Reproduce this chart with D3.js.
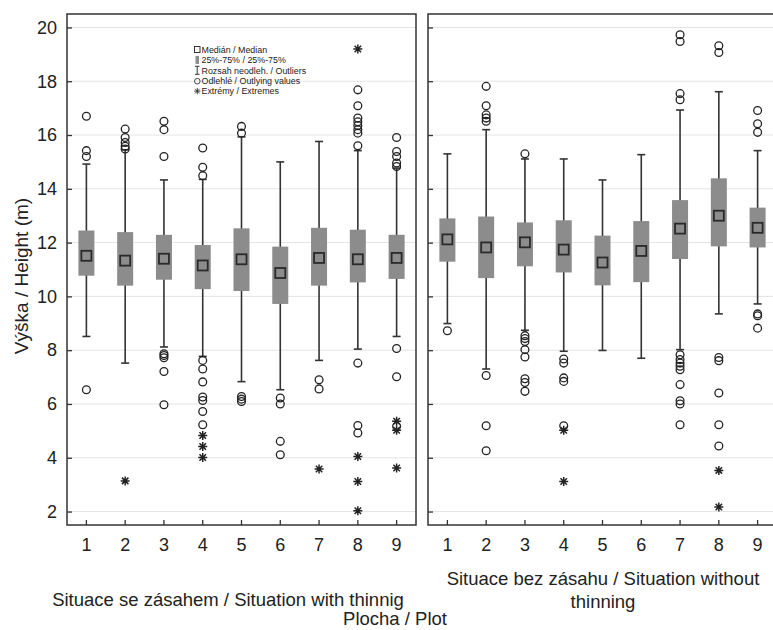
<!DOCTYPE html>
<html>
<head>
<meta charset="utf-8">
<script src="https://cdn.jsdelivr.net/npm/d3@7"></script>
<style>
    body { margin: 0; background: #fff; }
    svg { display: block; font-family: "Liberation Sans", Arial, sans-serif; }
    .axis text { font-size: 18px; fill: #222; }
    .axis line { stroke: #333; stroke-width: 1.3; }
    .axis path { display: none; }
</style>
</head>
<body>
<div id="chart"></div>
<script>

// Plots (x categories) and y ticks
let plots = ["1", "2", "3", "4", "5", "6", "7", "8", "9"];
let yTicks = [2, 4, 6, 8, 10, 12, 14, 16, 18, 20];

// Situation with thinning (left panel)
let thinMedian = [11.51, 11.33, 11.40, 11.15, 11.38, 10.87, 11.43, 11.38, 11.43];
let thinQ1 = [10.77, 10.40, 10.62, 10.27, 10.20, 9.72, 10.40, 10.52, 10.65];
let thinQ3 = [12.45, 12.39, 12.29, 11.91, 12.53, 11.85, 12.55, 12.48, 12.29];
let thinLow = [8.51, 7.52, 8.12, 7.77, 6.83, 6.53, 7.62, 8.04, 8.51];
let thinHigh = [14.92, 15.45, 14.33, 14.35, 15.93, 15.00, 15.76, 15.42, 14.77];
let thinOutliers = [
    [16.7, 15.42, 15.2, 6.53],
    [16.22, 15.91, 15.72, 15.58, 15.48],
    [16.51, 16.2, 15.2, 7.87, 7.8, 7.72, 7.21, 5.97],
    [15.52, 14.8, 14.49, 7.62, 7.3, 6.82, 6.26, 6.13, 5.72, 5.23],
    [16.32, 16.07, 6.28, 6.18, 6.09],
    [6.22, 6.0, 4.61, 4.11],
    [6.9, 6.56],
    [17.68, 17.09, 16.63, 16.49, 16.35, 16.2, 16.07, 15.6, 7.52, 5.2, 4.92],
    [15.91, 15.39, 15.2, 14.96, 14.83, 8.06, 7.01, 5.17]
];
let thinExtremes = [
    [], [3.14], [], [4.83, 4.42, 4.01], [], [], [3.58], [19.2, 4.05, 3.12, 2.03], [5.36, 5.02, 3.62]
];

// Situation without thinning (right panel)
let noThinMedian = [12.12, 11.82, 12.01, 11.74, 11.26, 11.69, 12.52, 13.00, 12.55];
let noThinQ1 = [11.29, 10.68, 11.12, 10.89, 10.41, 10.53, 11.39, 11.86, 11.82];
let noThinQ3 = [12.90, 12.97, 12.75, 12.83, 12.26, 12.80, 13.58, 14.39, 13.30];
let noThinLow = [8.99, 7.30, 8.74, 7.96, 7.99, 7.70, 8.02, 9.35, 9.72];
let noThinHigh = [15.30, 16.20, 15.11, 15.11, 14.33, 15.27, 16.93, 17.61, 15.42];
let noThinOutliers = [
    [8.72],
    [17.81, 17.09, 16.75, 16.63, 16.51, 7.06, 5.19, 4.26],
    [15.30, 8.54, 8.43, 8.32, 8.02, 7.75, 6.94, 6.80, 6.47],
    [7.67, 7.52, 6.97, 6.84, 5.19],
    [],
    [],
    [19.73, 19.48, 17.54, 17.31, 7.83, 7.65, 7.52, 7.40, 7.27, 6.72, 6.12, 6.0, 5.23],
    [19.32, 19.07, 7.73, 7.61, 6.41, 5.23, 4.44],
    [16.91, 16.42, 16.10, 9.35, 9.28, 8.82]
];
let noThinExtremes = [
    [], [], [], [5.02, 3.12], [], [], [], [3.53, 2.17], []
];

let legendItems = ["Medián / Median", "25%-75% / 25%-75%", "Rozsah neodleh. / Outliers",
    "Odlehlé / Outlying values", "Extrémy / Extremes"];


// ---- SVG ----
let width = 773, height = 630;
let panelTop = 14, panelBottom = 525, panelWidth = 349;

let svg = d3.select("#chart").append("svg")
    .attr("width", width)
    .attr("height", height);

let y = d3.scaleLinear()
    .domain([1.5, 20.5])
    .range([panelBottom, panelTop]);

function buildRows(median, q1, q3, low, high, outliers, extremes) {
    return plots.map((p, i) => ({
        plot: p, median: median[i], q1: q1[i], q3: q3[i],
        low: low[i], high: high[i], outliers: outliers[i], extremes: extremes[i]
    }));
}

function starPath(cx, cy, r) {
    let d = r * 0.72;
    return "M" + cx + "," + (cy - r) + "L" + cx + "," + (cy + r) +
        "M" + (cx - d) + "," + (cy - d) + "L" + (cx + d) + "," + (cy + d) +
        "M" + (cx - d) + "," + (cy + d) + "L" + (cx + d) + "," + (cy - d) +
        "M" + (cx - r) + "," + cy + "L" + (cx + r) + "," + cy;
}

function drawPanel(x0, data, showLabels) {
    let x = d3.scaleBand()
        .domain(plots)
        .range([x0, x0 + panelWidth])
        .padding(0);

    let g = svg.append("g");

    // grid
    g.selectAll(".grid")
        .data(yTicks)
        .enter().append("line")
        .attr("x1", x0).attr("x2", x0 + panelWidth)
        .attr("y1", d => y(d)).attr("y2", d => y(d))
        .attr("stroke", "#e4e4e4")
        .attr("stroke-width", 1);

    // axes
    let yAxis = d3.axisLeft(y)
        .tickValues(yTicks)
        .tickSizeInner(-5)
        .tickSizeOuter(0)
        .tickPadding(10)
        .tickFormat(showLabels ? d3.format("d") : "");

    g.append("g")
        .attr("class", "axis")
        .attr("transform", "translate(" + x0 + ",0)")
        .call(yAxis);

    let xAxis = d3.axisBottom(x)
        .tickSizeInner(-5)
        .tickSizeOuter(0)
        .tickPadding(13);

    g.append("g")
        .attr("class", "axis")
        .attr("transform", "translate(0," + panelBottom + ")")
        .call(xAxis);

    let boxW = 16, capW = 8, sq = 10;

    let plotG = g.selectAll(".plot")
        .data(data)
        .enter().append("g")
        .attr("class", "plot");

    // whiskers
    plotG.append("line")
        .attr("x1", d => x(d.plot) + x.bandwidth() / 2)
        .attr("x2", d => x(d.plot) + x.bandwidth() / 2)
        .attr("y1", d => y(d.high))
        .attr("y2", d => y(d.low))
        .attr("stroke", "#333")
        .attr("stroke-width", 1.6);

    ["high", "low"].forEach(k => {
        plotG.append("line")
            .attr("x1", d => x(d.plot) + x.bandwidth() / 2 - capW / 2)
            .attr("x2", d => x(d.plot) + x.bandwidth() / 2 + capW / 2)
            .attr("y1", d => y(d[k]))
            .attr("y2", d => y(d[k]))
            .attr("stroke", "#333")
            .attr("stroke-width", 1.6);
    });

    // boxes
    plotG.append("rect")
        .attr("x", d => x(d.plot) + x.bandwidth() / 2 - boxW / 2)
        .attr("y", d => y(d.q3))
        .attr("width", boxW)
        .attr("height", d => y(d.q1) - y(d.q3))
        .attr("fill", "#8c8c8c");

    // median squares
    plotG.append("rect")
        .attr("x", d => x(d.plot) + x.bandwidth() / 2 - sq / 2)
        .attr("y", d => y(d.median) - sq / 2)
        .attr("width", sq)
        .attr("height", sq)
        .attr("fill", "#8c8c8c")
        .attr("stroke", "#2a2a2a")
        .attr("stroke-width", 1.8);

    // outliers
    plotG.selectAll(".outlier")
        .data(d => d.outliers.map(v => ({plot: d.plot, value: v})))
        .enter().append("circle")
        .attr("cx", d => x(d.plot) + x.bandwidth() / 2)
        .attr("cy", d => y(d.value))
        .attr("r", 3.9)
        .attr("fill", "none")
        .attr("stroke", "#222")
        .attr("stroke-width", 1.3);

    // extremes
    plotG.selectAll(".extreme")
        .data(d => d.extremes.map(v => ({plot: d.plot, value: v})))
        .enter().append("path")
        .attr("d", d => starPath(x(d.plot) + x.bandwidth() / 2, y(d.value), 4.5))
        .attr("stroke", "#222")
        .attr("stroke-width", 1.5)
        .attr("fill", "none");

    // frame
    g.append("rect")
        .attr("x", x0)
        .attr("y", panelTop)
        .attr("width", panelWidth)
        .attr("height", panelBottom - panelTop)
        .attr("fill", "none")
        .attr("stroke", "#333")
        .attr("stroke-width", 1.5);
}

drawPanel(67, buildRows(thinMedian, thinQ1, thinQ3, thinLow, thinHigh, thinOutliers, thinExtremes), true);
drawPanel(428, buildRows(noThinMedian, noThinQ1, noThinQ3, noThinLow, noThinHigh, noThinOutliers, noThinExtremes), false);


// ---- LEGEND ----
let legend = svg.append("g")
    .attr("transform", "translate(197,49.5)");

legendItems.forEach((t, i) => {
    let ly = i * 10.4;
    let item = legend.append("g").attr("transform", "translate(0," + ly + ")");
    if (i === 0) {
        item.append("rect").attr("x", -2.5).attr("y", -3).attr("width", 5.5).attr("height", 6)
            .attr("fill", "none").attr("stroke", "#333").attr("stroke-width", 1);
    } else if (i === 1) {
        item.append("rect").attr("x", -1.5).attr("y", -4).attr("width", 3.5).attr("height", 8)
            .attr("fill", "#8c8c8c");
    } else if (i === 2) {
        item.append("path").attr("d", "M-2,-4L2.5,-4M0.2,-4L0.2,4M-2,4L2.5,4")
            .attr("stroke", "#333").attr("stroke-width", 1).attr("fill", "none");
    } else if (i === 3) {
        item.append("circle").attr("cx", 0.3).attr("cy", 0.5).attr("r", 2.8)
            .attr("fill", "none").attr("stroke", "#333").attr("stroke-width", 0.9);
    } else {
        item.append("path").attr("d", starPath(0.3, 0, 3.2))
            .attr("stroke", "#333").attr("stroke-width", 0.9).attr("fill", "none");
    }
    item.append("text")
        .attr("x", 4.5)
        .attr("y", 3.2)
        .attr("font-size", 8.9)
        .attr("fill", "#222")
        .text(t);
});


// ---- TITLES ----
svg.append("text")
    .attr("transform", "translate(28,276) rotate(-90)")
    .attr("text-anchor", "middle")
    .attr("font-size", 19)
    .attr("fill", "#222")
    .text("Výška / Height (m)");

svg.append("text")
    .attr("x", 228).attr("y", 606)
    .attr("text-anchor", "middle")
    .attr("font-size", 18.5)
    .attr("fill", "#222")
    .text("Situace se zásahem / Situation with thinnig");

svg.append("text")
    .attr("x", 603).attr("y", 585)
    .attr("text-anchor", "middle")
    .attr("font-size", 18.5)
    .attr("fill", "#222")
    .text("Situace bez zásahu / Situation without");

svg.append("text")
    .attr("x", 603).attr("y", 608)
    .attr("text-anchor", "middle")
    .attr("font-size", 18.5)
    .attr("fill", "#222")
    .text("thinning");

svg.append("text")
    .attr("x", 395).attr("y", 625)
    .attr("text-anchor", "middle")
    .attr("font-size", 18.5)
    .attr("fill", "#222")
    .text("Plocha / Plot");

</script>
</body>
</html>
